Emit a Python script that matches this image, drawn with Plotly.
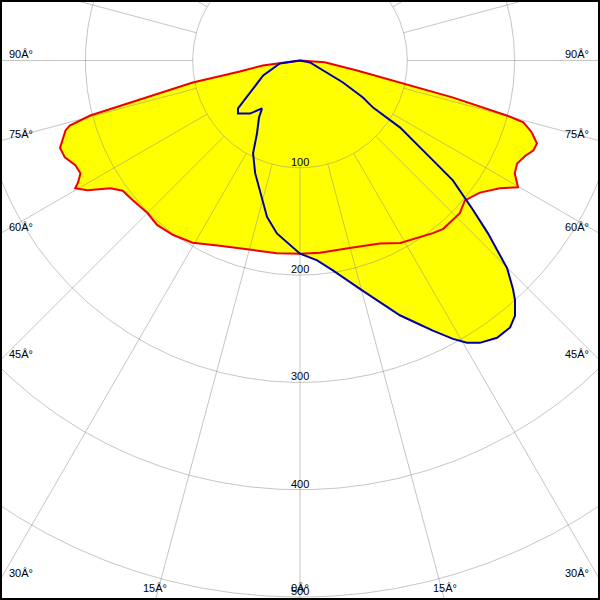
import numpy as np
import plotly.graph_objects as go

# ---- data (angle in degrees from nadir; negative = left half, positive = right half) ----
red_angles = [-90, -82.3, -79.6, -78.4, -75.3, -74.2, -73.4, -71.4, -70, -67.6, -65, -62.8,
              -61.2, -60.4, -58.6, -56, -53.7, -50, -45, -41, -36, -30.5, -23.4, -13.9, -6.8, 0,
              5.9, 15.8, 23.6, 28.8, 37.6, 40.4, 46.3, 49.7, 53.7, 57.4, 59.8, 62.3, 64.6, 67.1,
              68.9, 70.7, 72.8, 74.5, 75.1, 76.4, 77.6, 80, 85.8, 90]
red_values = [0, 35, 57, 102, 202, 223, 228, 234, 238, 237, 231, 230,
              236, 241, 232, 213, 205, 203, 201, 203, 201, 197, 188, 182, 181, 180,
              180, 181, 186, 194, 203, 206, 206, 201.5, 208, 221, 235, 226, 224, 228,
              233, 234, 226, 216, 200, 147, 95, 54, 23, 0]

blue_angles = [-90, -81.5, -67.9, -56.6, -52.3, -49.5, -43.3, -38.4, -35.7, -30.5, -26.8, -21.7,
               -15.5, -11.9, -7.6, 0, 4.9, 8.9, 14.7, 21.4, 24, 26.2, 28.8, 30.6, 32.5, 35.4,
               38.2, 40.1, 41.9, 43, 44.9, 47.4, 49.3, 51.9, 53.1, 54.7, 56.2, 57.2, 59.6,
               62.9, 66, 78.7, 90]
blue_values = [0, 19, 37, 56, 73, 76, 68, 57, 65.5, 79, 97, 113,
               132.5, 149, 162.6, 180, 187, 198, 220, 255, 268, 280.5, 296, 305.5, 312, 317,
               316.6, 311, 300, 291, 273.5, 238, 211.5, 181, 155, 129, 112, 81, 68,
               45, 27.5, 9.5, 0]

ring_values = [100, 200, 300, 400, 500]
ring_labels = ["100", "200", "300", "400", "500"]
spoke_angles = list(range(0, 360, 15))
side_label_angles = [90, 75, 60, 45, 30]
side_labels = ["90Â°", "75Â°", "60Â°", "45Â°", "30Â°"]
bottom_label_angles = [-15, 0, 15]
bottom_labels = ["15Â°", "0Â°", "15Â°"]

# ---- geometry helpers ----
S = 1.0731  # px per unit
X_MAX = 300 / S
Y_TOP = 60.5 / S
Y_BOT = -539.5 / S


def to_xy(ang, val):
    a = np.radians(np.asarray(ang, dtype=float))
    v = np.asarray(val, dtype=float)
    return v * np.sin(a), -v * np.cos(a)


rx, ry = to_xy(red_angles, red_values)
bx, by = to_xy(blue_angles, blue_values)

fig = go.Figure()
yellow = "#ffff00"
fig.add_trace(go.Scatter(x=rx, y=ry, fill="toself", fillcolor=yellow, mode="lines",
                         line=dict(width=0), hoverinfo="skip"))
fig.add_trace(go.Scatter(x=bx, y=by, fill="toself", fillcolor=yellow, mode="lines",
                         line=dict(width=0), hoverinfo="skip"))

grid_col = "rgba(140,140,140,0.5)"
t = np.linspace(0, 2 * np.pi, 721)
cx, cy = [], []
for r in ring_values:
    cx += list(r * np.cos(t)) + [None]
    cy += list(r * np.sin(t)) + [None]
fig.add_trace(go.Scatter(x=cx, y=cy, mode="lines", line=dict(color=grid_col, width=1),
                         hoverinfo="skip"))
sx, sy = [], []
for a in spoke_angles:
    x0, y0 = to_xy(a, ring_values[0])
    x1, y1 = to_xy(a, 900)
    sx += [x0, x1, None]
    sy += [y0, y1, None]
fig.add_trace(go.Scatter(x=sx, y=sy, mode="lines", line=dict(color=grid_col, width=1),
                         hoverinfo="skip"))

fig.add_trace(go.Scatter(x=rx, y=ry, mode="lines", line=dict(color="#ee0000", width=2),
                         hoverinfo="skip"))
fig.add_trace(go.Scatter(x=bx, y=by, mode="lines", line=dict(color="#0000a8", width=2),
                         hoverinfo="skip"))

font = dict(family="Liberation Sans, Arial, sans-serif", size=11, color="black")
ann = []
for r, lab in zip(ring_values, ring_labels):
    ann.append(dict(x=0, y=-r, text=lab, showarrow=False, xanchor="center",
                    yanchor="bottom", yshift=-2, font=font))
for a, lab in zip(side_label_angles, side_labels):
    # exit point of the spoke at the left / right border
    yexit = -X_MAX / np.tan(np.radians(a)) if a != 90 else 0
    ann.append(dict(x=-X_MAX + 7 / S, y=yexit, text=lab, showarrow=False, xanchor="left",
                    yanchor="bottom", yshift=-1, font=font))
    ann.append(dict(x=X_MAX - 9 / S, y=yexit, text=lab, showarrow=False, xanchor="right",
                    yanchor="bottom", yshift=-1, font=font))
for a, lab in zip(bottom_label_angles, bottom_labels):
    xexit = -Y_BOT * np.tan(np.radians(a))
    ann.append(dict(x=xexit, y=Y_BOT, text=lab, showarrow=False, xanchor="center",
                    yanchor="bottom", yshift=4, font=font))

fig.update_layout(
    width=600, height=600, margin=dict(l=0, r=0, t=0, b=0),
    paper_bgcolor="white", plot_bgcolor="white", showlegend=False, hovermode=False,
    xaxis=dict(range=[-X_MAX, X_MAX], visible=False, fixedrange=True),
    yaxis=dict(range=[Y_BOT, Y_TOP], visible=False, fixedrange=True),
    annotations=ann,
    shapes=[dict(type="rect", xref="paper", yref="paper", x0=0, x1=1, y0=0, y1=1,
                 line=dict(color="black", width=4), layer="above")],
)
fig.write_html("out.html", config={"displayModeBar": False},
               post_script="document.body.style.margin='0px';document.body.style.overflow='hidden';")
